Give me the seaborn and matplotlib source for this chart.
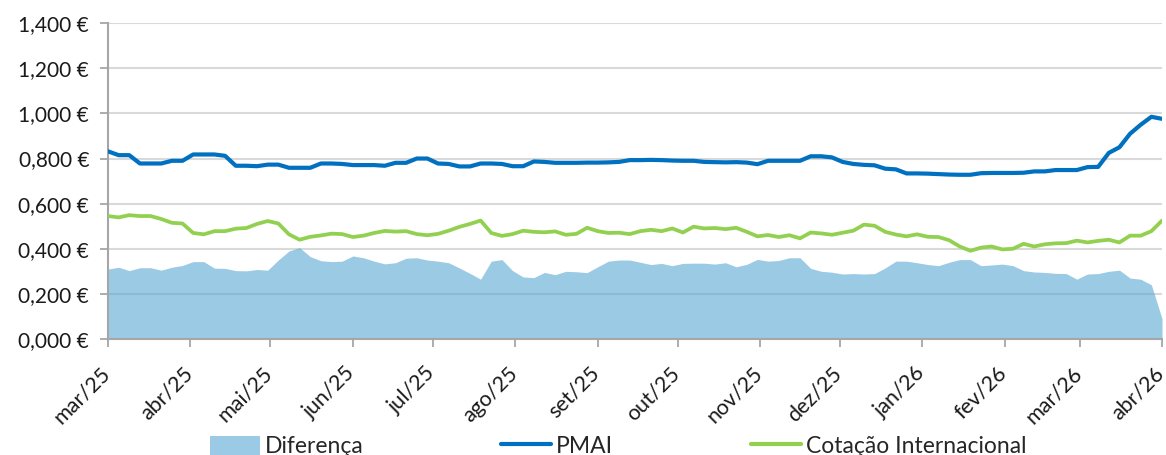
#!/usr/bin/env python
"""PMAI vs international quotation, with the difference as a shaded area."""

import matplotlib

matplotlib.use("Agg")
import matplotlib.pyplot as plt
import matplotlib.transforms as mtransforms
import pandas as pd
import seaborn as sns
from matplotlib.lines import Line2D
from matplotlib.patches import Patch

# one sample every 4 days, 2025-03-01 .. 2026-04-01
DATES = pd.date_range("2025-03-01", periods=100, freq="4D")

PMAI = [
    0.832, 0.815, 0.815, 0.778, 0.778, 0.778, 0.790, 0.790, 0.818, 0.818,
    0.818, 0.812, 0.768, 0.768, 0.766, 0.773, 0.773, 0.759, 0.759, 0.759,
    0.778, 0.778, 0.776, 0.771, 0.771, 0.771, 0.768, 0.781, 0.781, 0.800,
    0.800, 0.778, 0.776, 0.765, 0.765, 0.778, 0.778, 0.776, 0.766, 0.766,
    0.787, 0.785, 0.781, 0.781, 0.781, 0.782, 0.782, 0.783, 0.785, 0.793,
    0.793, 0.794, 0.793, 0.791, 0.790, 0.790, 0.785, 0.784, 0.783, 0.784,
    0.782, 0.775, 0.790, 0.790, 0.790, 0.790, 0.810, 0.810, 0.805, 0.785,
    0.776, 0.772, 0.770, 0.755, 0.752, 0.734, 0.734, 0.733, 0.731, 0.729,
    0.728, 0.728, 0.735, 0.736, 0.736, 0.736, 0.737, 0.743, 0.743, 0.749,
    0.749, 0.749, 0.762, 0.763, 0.825, 0.850, 0.910, 0.950, 0.985, 0.976,
]

COTACAO = [
    0.545, 0.539, 0.549, 0.545, 0.545, 0.532, 0.515, 0.512, 0.470, 0.464,
    0.478, 0.478, 0.489, 0.492, 0.510, 0.523, 0.512, 0.464, 0.440, 0.453,
    0.459, 0.467, 0.465, 0.452, 0.458, 0.470, 0.479, 0.476, 0.478, 0.465,
    0.460, 0.466, 0.480, 0.497, 0.510, 0.525, 0.470, 0.457, 0.465, 0.480,
    0.475, 0.473, 0.477, 0.462, 0.466, 0.493, 0.478, 0.470, 0.471, 0.465,
    0.478, 0.484, 0.478, 0.490, 0.472, 0.498, 0.490, 0.492, 0.487, 0.493,
    0.475, 0.455, 0.461, 0.452, 0.460, 0.446, 0.472, 0.468, 0.462, 0.471,
    0.480, 0.507, 0.502, 0.475, 0.463, 0.455, 0.464, 0.453, 0.452, 0.438,
    0.410, 0.391, 0.405, 0.410, 0.397, 0.400, 0.422, 0.410, 0.420, 0.424,
    0.425, 0.436, 0.428, 0.435, 0.440, 0.428, 0.458, 0.458, 0.478, 0.525,
]

DIFERENCA = [
    0.310, 0.318, 0.303, 0.316, 0.316, 0.305, 0.318, 0.326, 0.343, 0.343,
    0.314, 0.313, 0.303, 0.302, 0.308, 0.305, 0.350, 0.390, 0.405, 0.365,
    0.347, 0.343, 0.345, 0.368, 0.360, 0.345, 0.333, 0.338, 0.358, 0.360,
    0.350, 0.345, 0.338, 0.315, 0.291, 0.265, 0.345, 0.352, 0.303, 0.275,
    0.272, 0.295, 0.285, 0.300, 0.298, 0.294, 0.320, 0.345, 0.350, 0.350,
    0.340, 0.330, 0.335, 0.325, 0.335, 0.336, 0.336, 0.332, 0.338, 0.320,
    0.331, 0.353, 0.345, 0.348, 0.360, 0.360, 0.313, 0.300, 0.296, 0.288,
    0.290, 0.288, 0.290, 0.315, 0.345, 0.345, 0.338, 0.330, 0.325, 0.340,
    0.352, 0.352, 0.325, 0.328, 0.332, 0.325, 0.303, 0.297, 0.295, 0.291,
    0.290, 0.265, 0.288, 0.290, 0.300, 0.305, 0.270, 0.265, 0.240, 0.090,
]

MONTH_LABELS = [
    "mar/25", "abr/25", "mai/25", "jun/25", "jul/25", "ago/25", "set/25",
    "out/25", "nov/25", "dez/25", "jan/26", "fev/26", "mar/26", "abr/26",
]
Y_TICKS = [0.0, 0.2, 0.4, 0.6, 0.8, 1.0, 1.2, 1.4]

BLUE = "#0070C0"
GREEN = "#92D050"
AREA = "#58A7D5"
TEXT = "#1a1a1a"


def main() -> None:
    sns.set_theme(style="white")
    plt.rcParams["font.family"] = ["Lato", "DejaVu Sans"]

    df = pd.DataFrame(
        {"data": DATES, "PMAI": PMAI, "Cotação Internacional": COTACAO, "Diferença": DIFERENCA}
    )

    fig = plt.figure(figsize=(11.66, 4.55), dpi=100)
    ax = fig.add_axes([0.0926, 0.255, 0.904, 0.694])

    ax.fill_between(df["data"], 0, df["Diferença"], color=AREA, alpha=0.6, linewidth=0, zorder=1)
    sns.lineplot(data=df, x="data", y="PMAI", ax=ax, color=BLUE, linewidth=3.0, zorder=3)
    sns.lineplot(data=df, x="data", y="Cotação Internacional", ax=ax, color=GREEN,
                 linewidth=2.7, zorder=3)

    ax.set_xlim(pd.Timestamp("2025-03-01"), pd.Timestamp("2026-04-01"))
    ax.set_ylim(0, 1.4)

    month_starts = pd.date_range("2025-03-01", "2026-04-01", freq="MS")
    ax.set_xticks(month_starts)
    ax.set_xticklabels([])
    # month labels drawn by hand so the rotated text ends right under its tick
    label_tf = mtransforms.offset_copy(ax.get_xaxis_transform(), fig=fig, x=-1, y=-31,
                                       units="dots")
    for day, text in zip(month_starts, MONTH_LABELS):
        ax.text(day, 0, text, transform=label_tf, rotation=45, ha="right", va="center",
                rotation_mode="anchor", fontsize=15.5, color=TEXT, clip_on=False)

    ax.set_yticks(Y_TICKS)
    ax.set_yticklabels([f"{v:.3f} €".replace(".", ",") for v in Y_TICKS],
                       fontsize=15, color=TEXT)
    ax.set_xlabel("")
    ax.set_ylabel("")

    ax.grid(axis="y", color="#D9D9D9", linewidth=1.5, zorder=0)
    ax.grid(axis="x", visible=False)
    ax.set_axisbelow(True)
    for side in ("top", "right"):
        ax.spines[side].set_visible(False)
    for side in ("left", "bottom"):
        ax.spines[side].set_color("#A6A6A6")
        ax.spines[side].set_linewidth(1.5)
    ax.tick_params(axis="both", direction="out", length=5.5, width=1.3, color="#A6A6A6",
                   bottom=True, left=True)
    ax.tick_params(axis="y", pad=8)

    handles = [
        Patch(facecolor="#9BCAE6", edgecolor="none"),
        Line2D([], [], color=BLUE, linewidth=3.0),
        Line2D([], [], color=GREEN, linewidth=3.0),
    ]
    labels = ["Diferença", "PMAI", "Cotação Internacional"]
    fig.legend(handles, labels, loc="lower center", bbox_to_anchor=(0.53, -0.05), ncol=3,
               frameon=False, fontsize=16.5, handlelength=2.2, handleheight=0.9,
               handletextpad=0.2, columnspacing=6.0)

    fig.savefig("out.png", dpi=100)
    plt.close(fig)


if __name__ == "__main__":
    main()
